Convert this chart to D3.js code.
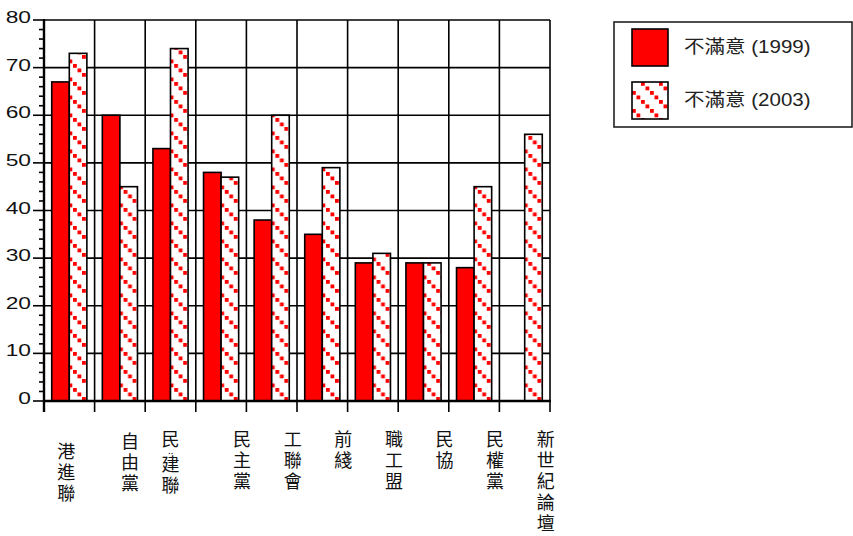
<!DOCTYPE html>
<html><head><meta charset="utf-8">
<script src="https://cdn.jsdelivr.net/npm/d3@7"></script>
<style>body{margin:0;background:#fff}svg{display:block}</style>
</head><body><svg id="c" width="853" height="536"></svg>
<script>
const categories = ["港進聯","自由黨","民‥建聯","民主黨","工聯會","前綫","職工盟","民協","民權黨","新世紀論壇"];
const series = ["不滿意 (1999)","不滿意 (2003)"];
const v1999 = [67,60,53,48,38,35,29,29,28,null];
const v2003 = [73,45,74,47,60,49,31,29,45,56];
const yTicks = [0,10,20,30,40,50,60,70,80];

const svg = d3.select("#c");
const L=44,R=550,T=20,B=401;
const x0 = d3.scaleBand().domain(categories).range([L,R]).padding(0);
const x1 = d3.scaleBand().domain(series).range([0,x0.bandwidth()]).paddingInner(0).paddingOuter(0.44);
const y = d3.scaleLinear().domain([0,80]).range([B,T]);

const defs = svg.append("defs");
const pat = defs.append("pattern").attr("id","dots").attr("patternUnits","userSpaceOnUse")
  .attr("width",18).attr("height",18).attr("x",2).attr("y",1);
pat.append("rect").attr("width",18).attr("height",18).attr("fill","#fff");
[0,4.5,9,13.5].forEach(a=>pat.append("rect").attr("x",a).attr("y",a).attr("width",3.8).attr("height",3.8).attr("fill","#ff0000"));

// gridlines
const g = svg.append("g");
g.selectAll("line.h").data(yTicks.filter(d=>d>0)).join("line")
  .attr("x1",L).attr("x2",R).attr("y1",d=>y(d)).attr("y2",d=>y(d))
  .attr("stroke","#000").attr("stroke-width",1.6);
const bounds = categories.map(c=>x0(c)).concat([R]);
g.selectAll("line.v").data(bounds.slice(1)).join("line")
  .attr("x1",d=>d).attr("x2",d=>d).attr("y1",T).attr("y2",B)
  .attr("stroke","#000").attr("stroke-width",1.6);

// bars
const rows = categories.map((c,i)=>({c, vals:[v1999[i],v2003[i]]}));
const grp = svg.append("g").selectAll("g").data(rows).join("g").attr("transform",d=>`translate(${x0(d.c)},0)`);
grp.selectAll("rect").data(d=>d.vals.map((v,j)=>({v,s:series[j],j})).filter(e=>e.v!=null)).join("rect")
  .attr("x",e=>x1(e.s)).attr("width",x1.bandwidth())
  .attr("y",e=>y(e.v)).attr("height",e=>y(0)-y(e.v))
  .attr("fill",e=>e.j===0?"#ff0000":"url(#dots)")
  .attr("stroke","#000").attr("stroke-width",1.6);

// y axis
const ya = svg.append("g");
ya.append("line").attr("x1",L).attr("x2",L).attr("y1",T-1).attr("y2",B+11).attr("stroke","#000").attr("stroke-width",2.4);
const minor = d3.range(0,81,2).filter(d=>d%10!==0);
ya.selectAll("line.mn").data(minor).join("line").attr("x1",L-5).attr("x2",L).attr("y1",d=>y(d)).attr("y2",d=>y(d)).attr("stroke","#000").attr("stroke-width",1.6);
ya.selectAll("line.mj").data(yTicks).join("line").attr("x1",L-11).attr("x2",L).attr("y1",d=>y(d)).attr("y2",d=>y(d)).attr("stroke","#000").attr("stroke-width",1.6);
ya.selectAll("text").data(yTicks).join("text")
  .attr("transform",d=>`translate(31,${y(d)+3}) scale(1.34,1)`)
  .attr("text-anchor","end").attr("font-family","Liberation Sans, Arial, sans-serif").attr("font-size",17).attr("fill","#111")
  .text(d=>d);

// x axis
const xa = svg.append("g");
xa.append("line").attr("x1",L).attr("x2",R+1).attr("y1",B).attr("y2",B).attr("stroke","#000").attr("stroke-width",2.4);
xa.selectAll("line.t").data(bounds).join("line").attr("x1",d=>d).attr("x2",d=>d).attr("y1",B).attr("y2",B+11).attr("stroke","#000").attr("stroke-width",1.6);

// x labels: vertical text runs
const labelShift = [-3,10,0,21,21,21,21,21,21,21];
const labelTop = [442,432,430,430,430,430,430,430,430,430];
function vText(str, cx, top){
  svg.append("text").attr("x",cx).attr("y",top)
    .style("writing-mode","vertical-rl").style("text-orientation","upright")
    .attr("letter-spacing",3)
    .attr("font-family","Noto Sans CJK TC, sans-serif").attr("font-size",18).attr("fill","#111").text(str);
}
categories.forEach((c,i)=>{
  const cx = x0(c)+x0.bandwidth()/2+labelShift[i];
  const top = labelTop[i];
  const k = c.indexOf("‥");
  if(k<0){ vText(c,cx,top); }
  else {
    vText(c.slice(0,k),cx,top);
    svg.append("text").attr("x",cx).attr("y",top+24).attr("text-anchor","middle")
      .attr("font-family","Liberation Sans, sans-serif").attr("font-size",10).attr("fill","#111").text("‥");
    vText(c.slice(k+1),cx,top+25);
  }
});

// legend
const lg = svg.append("g");
lg.append("rect").attr("x",614).attr("y",22).attr("width",238).attr("height",105).attr("fill","#fff").attr("stroke","#222").attr("stroke-width",1.6);
series.forEach((s,j)=>{
  const yy = 29 + j*53;
  lg.append("rect").attr("x",632).attr("y",yy).attr("width",36).attr("height",37)
    .attr("fill",j===0?"#ff0000":"url(#dots)").attr("stroke","#000").attr("stroke-width",1.6);
  lg.append("text").attr("transform",`translate(684,${yy+24}) scale(1.14,1)`)
    .attr("font-family","Liberation Sans, Arial, Noto Sans CJK TC, sans-serif").attr("font-size",18).attr("fill","#222").text(s);
});
</script></body></html>
